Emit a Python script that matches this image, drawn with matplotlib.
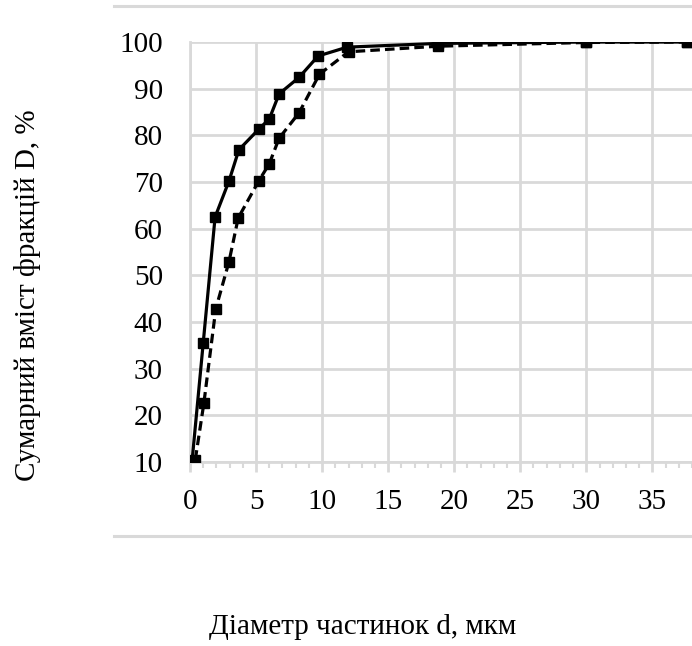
import matplotlib
matplotlib.use("Agg")
import matplotlib.pyplot as plt
from matplotlib.lines import Line2D
from matplotlib.ticker import MultipleLocator

# Data
d_solid = [0.15, 1.0, 1.9, 2.95, 3.7, 5.2, 6.0, 6.75, 8.25, 9.7, 11.9, 18.8, 30.0, 37.6]
D_solid = [10, 35.5, 62.5, 70.2, 76.9, 81.3, 83.5, 88.9, 92.4, 97.0, 98.9, 99.7, 100, 100]
d_dash = [0.4, 1.05, 1.95, 2.95, 3.65, 5.2, 6.0, 6.75, 8.25, 9.8, 12.0, 18.8, 30.0, 37.6]
D_dash = [10.5, 22.6, 42.8, 52.9, 62.3, 70.2, 73.9, 79.4, 84.8, 93.1, 97.9, 99.1, 99.9, 100]
x_ticks = [0, 5, 10, 15, 20, 25, 30, 35]
y_ticks = [10, 20, 30, 40, 50, 60, 70, 80, 90, 100]
xlabel = "Діаметр частинок d, мкм"
ylabel = "Сумарний вміст фракцій D, %"

plt.rcParams['font.family'] = ['Liberation Serif', 'DejaVu Serif']
W, H = 692, 646
fig = plt.figure(figsize=(W / 100, H / 100), dpi=100)
ax = fig.add_axes([190 / W, (H - 462) / H, (W - 190) / W, (462 - 42) / H])

grid_c = '#d9d9d9'
ax.plot(d_dash, D_dash, color='black', lw=2.3, linestyle=(0, (3, 1.6)),
        marker='s', markersize=6.5, zorder=3)
ax.plot(d_solid, D_solid, color='black', lw=2.3, linestyle='-',
        marker='s', markersize=6.5, zorder=4)

ax.set_xlim(0, 38)
ax.set_ylim(10, 100)
ax.set_xticks(x_ticks)
ax.set_yticks(y_ticks)
ax.xaxis.set_minor_locator(MultipleLocator(1))
ax.grid(True, which='major', color=grid_c, lw=2)
ax.set_axisbelow(True)
for s in ['top', 'right']:
    ax.spines[s].set_visible(False)
for s in ['left', 'bottom']:
    ax.spines[s].set_color(grid_c)
    ax.spines[s].set_linewidth(2)
ax.tick_params(axis='x', which='major', length=7.5, width=2, color=grid_c,
               labelsize=21, pad=12)
ax.tick_params(axis='x', which='minor', length=4.5, width=1.5, color=grid_c)
ax.tick_params(axis='y', which='major', length=0, labelsize=21, pad=19.5)

fig.text(28 / W, 1 - 295 / H, ylabel, rotation=90, ha='center', va='center', fontsize=21)
fig.text(363 / W, 1 - 627 / H, xlabel, ha='center', va='center', fontsize=21)

for yy in [6, 536]:
    fig.add_artist(Line2D([114 / W, 1.0], [1 - yy / H, 1 - yy / H],
                          transform=fig.transFigure, color=grid_c, lw=2.2))

fig.savefig("out.png", dpi=100)
